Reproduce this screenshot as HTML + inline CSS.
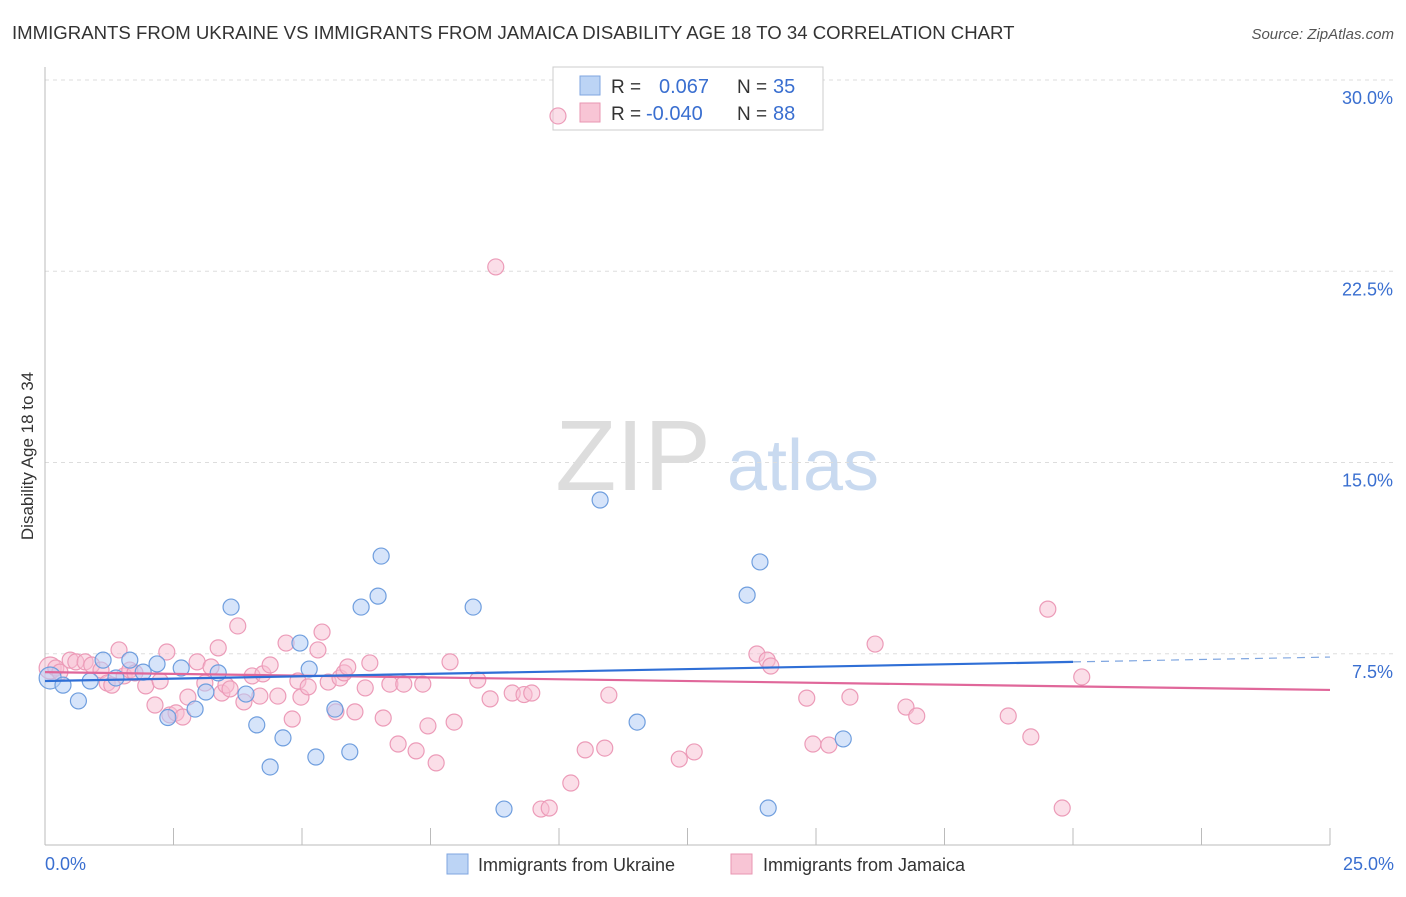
<!DOCTYPE html>
<html><head><meta charset="utf-8"><style>
body{margin:0;background:#fff;font-family:"Liberation Sans",sans-serif;}
svg text{font-family:"Liberation Sans",sans-serif;}
</style></head><body>
<svg id="chart" width="1406" height="892" xmlns="http://www.w3.org/2000/svg">
<text x="12" y="39" font-size="18.6" fill="#333">IMMIGRANTS FROM UKRAINE VS IMMIGRANTS FROM JAMAICA DISABILITY AGE 18 TO 34 CORRELATION CHART</text>
<text x="1394" y="39" font-size="15" fill="#555" text-anchor="end" font-style="italic">Source: ZipAtlas.com</text>
<text x="633" y="490" font-size="100" fill="#ddd" text-anchor="middle" font-family="Liberation Serif">ZIP</text>
<text x="803" y="490" font-size="72" fill="#c9daf0" text-anchor="middle">atlas</text>
<g id="grid"></g>
<line x1="45" y1="67" x2="45" y2="845" stroke="#bbb"/>
<line x1="45" y1="845" x2="1330" y2="845" stroke="#bbb"/>
<text transform="translate(33,456) rotate(-90)" font-size="17" fill="#333" text-anchor="middle">Disability Age 18 to 34</text>
<text x="45" y="870" font-size="18" fill="#3a6fd0">0.0%</text>
<text x="1394" y="870" font-size="18" fill="#3a6fd0" text-anchor="end">25.0%</text>
<g>
<rect x="553" y="67" width="270" height="63" fill="#fff" stroke="#ccc"/>
<rect x="580" y="76" width="20" height="19" fill="#bcd4f5" stroke="#7fa6e0"/>
<rect x="580" y="103" width="20" height="19" fill="#f8c5d5" stroke="#e896b2"/>
<text x="611" y="93" font-size="19" fill="#333">R = </text><text x="659" y="93" font-size="20" fill="#3a6fd0">0.067</text>
<text x="737" y="93" font-size="19" fill="#333">N = </text><text x="773" y="93" font-size="20" fill="#3a6fd0">35</text>
<text x="611" y="120" font-size="19" fill="#333">R = </text><text x="646" y="120" font-size="20" fill="#3a6fd0">-0.040</text>
<text x="737" y="120" font-size="19" fill="#333">N = </text><text x="773" y="120" font-size="20" fill="#3a6fd0">88</text>
</g>
<g id="pts"></g>
<g id="lines"></g>
<g>
<rect x="447" y="854" width="21" height="20" fill="#bcd4f5" stroke="#7fa6e0"/>
<text x="478" y="871" font-size="18" fill="#333">Immigrants from Ukraine</text>
<rect x="731" y="854" width="21" height="20" fill="#f8c5d5" stroke="#e896b2"/>
<text x="763" y="871" font-size="18" fill="#333">Immigrants from Jamaica</text>
</g>
</svg>
<script>
const yTicks=[7.5,15,22.5,30];
const yTickLabels=["7.5%","15.0%","22.5%","30.0%"];
const ukrX=[0.1,0.35,0.65,0.88,1.13,1.38,1.65,1.91,2.18,2.39,2.65,2.92,3.13,3.37,3.62,3.91,4.12,4.38,4.63,4.96,5.14,5.27,5.64,5.93,6.15,6.48,6.54,8.33,8.93,10.8,11.52,13.66,13.91,14.07,15.53];
const ukrY=[6.55,6.27,5.65,6.43,7.25,6.55,7.25,6.78,7.1,5.0,6.94,5.33,6.0,6.75,9.33,5.92,4.71,3.06,4.2,7.92,6.9,3.45,5.33,3.65,9.33,9.76,11.33,9.33,1.41,13.53,4.82,9.8,11.1,1.45,4.16];
const jamX=[0.1,0.21,0.29,0.49,0.6,0.78,0.91,1.09,1.21,1.3,1.44,1.54,1.65,1.75,1.96,2.14,2.24,2.37,2.43,2.55,2.68,2.78,2.96,3.11,3.23,3.37,3.44,3.52,3.6,3.75,3.87,4.03,4.18,4.24,4.38,4.53,4.69,4.81,4.92,4.98,5.12,5.31,5.39,5.51,5.66,5.74,5.82,5.89,6.03,6.23,6.32,6.58,6.71,6.87,6.98,7.22,7.35,7.45,7.61,7.88,7.96,8.42,8.66,8.77,9.09,9.32,9.47,9.65,9.81,9.98,10.23,10.51,10.89,10.97,12.34,12.63,13.85,14.05,14.12,14.82,14.94,15.25,15.66,16.15,16.75,16.96,18.74,19.18,19.51,19.79,20.17];
const jamY=[6.94,6.94,6.78,7.25,7.18,7.18,7.06,6.86,6.35,6.27,7.65,6.63,6.86,6.75,6.24,5.49,6.43,7.57,5.1,5.18,5.02,5.8,7.18,6.35,6.98,7.73,5.96,6.27,6.12,8.59,5.61,6.63,5.84,6.71,7.06,5.84,7.92,4.94,6.43,5.8,6.2,7.65,8.35,6.39,5.22,6.55,6.75,6.98,5.22,6.16,7.14,4.98,6.31,3.96,6.31,3.69,6.31,4.67,3.22,7.18,4.82,6.47,5.73,22.67,5.96,5.9,5.96,1.41,1.45,28.59,2.43,3.73,3.8,5.88,3.37,3.65,7.49,7.25,7.02,5.76,3.96,3.92,5.8,7.88,5.41,5.06,5.06,4.24,9.25,1.45,6.59];
const ukrTrend=[[0,6.43],[20,7.18]];
const ukrTrendExt=[[20,7.18],[25,7.37]];
const jamTrend=[[0,6.78],[25,6.08]];
const X=v=>45+v*51.4, Y=v=>845-v*25.5;
const NS="http://www.w3.org/2000/svg";
const grid=document.getElementById('grid');
yTicks.forEach((t,i)=>{
 const l=document.createElementNS(NS,'line');
 
 
 l.setAttribute('x1',45);l.setAttribute('x2',1394);l.setAttribute('y1',Y(t));l.setAttribute('y2',Y(t));
 l.setAttribute('stroke','#ddd');l.setAttribute('stroke-dasharray','4,4');grid.appendChild(l);
 const tx=document.createElementNS(NS,'text');
 
 
 tx.setAttribute('x',1393);tx.setAttribute('y',Y(t)+24);tx.setAttribute('text-anchor','end');
 tx.setAttribute('font-size','18');tx.setAttribute('fill','#3a6fd0');tx.textContent=yTickLabels[i];grid.appendChild(tx);
});
for(let i=1;i<=10;i++){
 const l=document.createElementNS(NS,'line');
 
 
 l.setAttribute('x1',X(i*2.5));l.setAttribute('x2',X(i*2.5));l.setAttribute('y1',828);l.setAttribute('y2',845);
 l.setAttribute('stroke','#bbb');grid.appendChild(l);
}
const pts=document.getElementById('pts');
function dots(xs,ys,fill,stroke,name){
 xs.forEach((x,i)=>{
  const c=document.createElementNS(NS,'circle');
  
  
  c.setAttribute('cx',X(x));c.setAttribute('cy',Y(ys[i]));c.setAttribute('r',i===0?11:8);
  c.setAttribute('fill',fill);c.setAttribute('stroke',stroke);c.setAttribute('stroke-width','1.2');
  pts.appendChild(c);
 });
}
dots(jamX,jamY,'rgba(248,190,210,0.5)','#ec9bb8','jamaica-point');
dots(ukrX,ukrY,'rgba(180,205,245,0.55)','#6f9ede','ukraine-point');
const lines=document.getElementById('lines');
function ln(p,col,name,dash){
 const l=document.createElementNS(NS,'line');
 
 
 l.setAttribute('x1',X(p[0][0]));l.setAttribute('y1',Y(p[0][1]));l.setAttribute('x2',X(p[1][0]));l.setAttribute('y2',Y(p[1][1]));
 l.setAttribute('stroke',col);l.setAttribute('stroke-width',dash?1.2:2.2);
 if(dash)l.setAttribute('stroke-dasharray','8,6');
 lines.appendChild(l);
}
ln(jamTrend,'#e0679a','jamaica-trend-line');
ln(ukrTrend,'#2f6fd6','ukraine-trend-line');
ln(ukrTrendExt,'#7fa6e0','ukraine-trend-extension',true);
</script>
</body></html>
